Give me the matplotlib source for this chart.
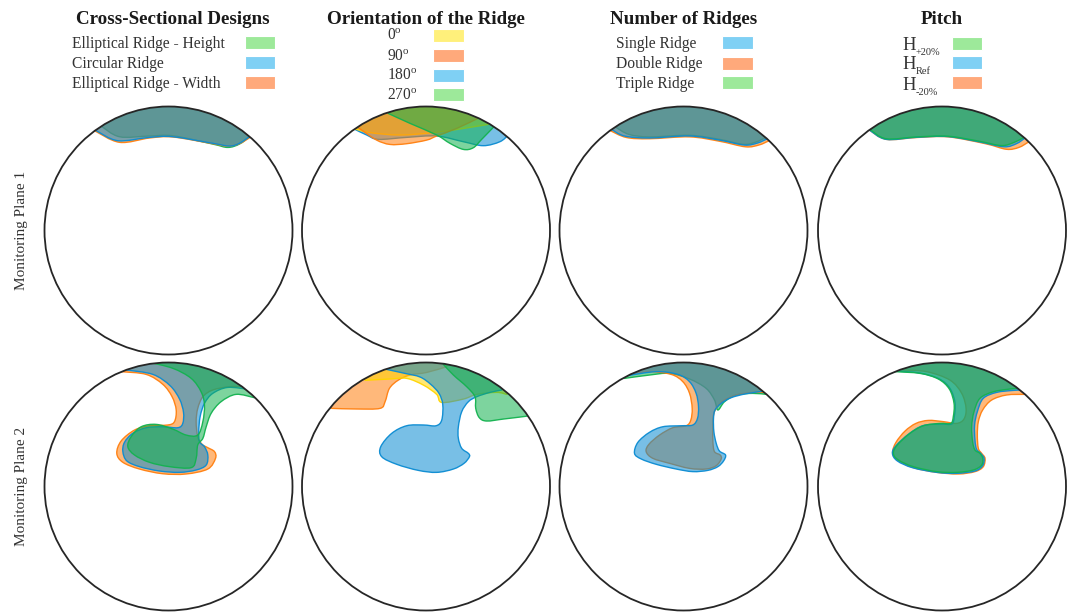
import numpy as np
import matplotlib
matplotlib.use("Agg")
import matplotlib.pyplot as plt
from matplotlib.patches import Circle, PathPatch, Rectangle
from matplotlib.path import Path
from matplotlib.colors import to_rgba

plt.rcParams["font.family"] = ["Liberation Serif", "DejaVu Serif"]
plt.rcParams["mathtext.fontset"] = "custom"
plt.rcParams["mathtext.rm"] = "Liberation Serif"
plt.rcParams["mathtext.it"] = "Liberation Serif:italic"
plt.rcParams["mathtext.bf"] = "Liberation Serif:bold"

# ---------------------------------------------------------------------------
# Vortex-core outlines in the pipe cross-section, in percent of pipe radius
# (x to the right, y upwards, pipe wall at r = 100).  Every outline starts and
# ends at the upper wall.
# ---------------------------------------------------------------------------

column_titles = ["Cross-Sectional Designs", "Orientation of the Ridge",
                 "Number of Ridges", "Pitch"]
row_titles = ["Monitoring Plane 1", "Monitoring Plane 2"]

cross_labels = ["Elliptical Ridge - Height", "Circular Ridge", "Elliptical Ridge - Width"]
orient_labels = ["0$^{\\rm o}$", "90$^{\\rm o}$", "180$^{\\rm o}$", "270$^{\\rm o}$"]
number_labels = ["Single Ridge", "Double Ridge", "Triple Ridge"]
pitch_subscripts = ["+20%", "Ref", "-20%"]

# ---- Monitoring plane 1 ----------------------------------------------------
mp1_ell_height = [(-54.3, 84.2), (-39.5, 75.6), (-15.3, 76.2), (3.5, 76.4),
                  (35.7, 69.7), (47.8, 67.0), (57.2, 69.7), (65.3, 75.6)]
mp1_circular = [(-58.3, 80.5), (-40.9, 72.4), (-15.3, 75.1), (3.5, 75.6),
                (35.7, 70.3), (49.2, 68.1), (57.2, 70.3), (65.3, 75.6)]
mp1_ell_width = [(-59.7, 80.5), (-39.5, 71.1), (-15.3, 74.6), (3.5, 75.4),
                 (35.7, 70.0), (47.8, 68.1), (57.2, 70.0), (65.8, 75.1)]

mp1_deg0 = [(-58.6, 82.3), (-45.1, 78.9), (-21.0, 77.0), (5.9, 78.9),
            (30.1, 82.3), (51.6, 85.8), (57.0, 86.4)]
mp1_deg90 = [(-55.9, 83.7), (-51.9, 81.0), (-39.8, 72.9), (-29.0, 69.4),
             (-15.6, 70.0), (0.5, 72.9), (8.6, 76.2), (24.7, 82.3), (43.0, 91.0)]
mp1_deg180 = [(-57.2, 81.5), (-47.8, 77.0), (-38.4, 73.5), (-15.6, 75.1),
              (8.6, 76.2), (30.1, 71.6), (46.2, 68.4), (59.6, 71.6), (66.4, 77.0)]
mp1_deg270 = [(-30.4, 94.4), (-12.9, 86.4), (8.6, 77.0), (19.3, 70.3),
              (30.1, 65.4), (38.1, 66.7), (44.9, 73.5), (54.8, 83.7)]

mp1_single = [(-58.0, 81.5), (-47.6, 76.2), (-27.4, 74.6), (4.8, 76.2),
              (29.0, 72.9), (49.2, 68.9), (59.6, 70.5), (67.7, 74.0)]
mp1_double = [(-59.0, 80.5), (-46.0, 75.0), (-27.4, 74.0), (4.8, 75.5),
              (29.0, 72.0), (50.0, 67.5), (61.0, 69.0), (69.0, 72.4)]
mp1_triple = [(-55.0, 83.5), (-44.0, 77.5), (-27.4, 75.5), (4.8, 76.8),
              (29.0, 73.5), (48.0, 69.5), (58.0, 71.2), (66.5, 75.0)]

mp1_h_plus = [(-58.0, 81.4), (-45.0, 74.0), (-20.0, 75.5), (5.0, 76.0),
              (30.0, 72.0), (48.0, 68.5), (58.0, 71.0), (66.0, 75.0)]
mp1_h_ref = [(-58.5, 81.0), (-45.0, 73.5), (-20.0, 75.2), (5.0, 75.7),
             (30.0, 71.5), (50.0, 67.5), (60.0, 70.0), (67.0, 74.6)]
mp1_h_minus = [(-58.5, 81.0), (-45.0, 73.5), (-20.0, 75.0), (5.0, 75.5),
               (35.0, 70.0), (52.0, 65.5), (62.0, 67.0), (70.0, 71.5)]

# ---- Monitoring plane 2 ----------------------------------------------------
mp2_ell_height = [(-15.3, 100.1), (3.5, 95.3), (18.3, 87.2), (26.3, 76.4),
                  (29.0, 65.7), (27.7, 52.3), (23.6, 41.5), (14.2, 41.5),
                  (3.5, 46.3), (-10.0, 50.1), (-22.0, 48.2), (-30.1, 40.2),
                  (-32.8, 32.1), (-27.4, 25.4), (-15.3, 19.5), (0.8, 16.0),
                  (18.3, 15.2), (22.3, 22.7), (23.6, 33.5), (27.7, 38.8),
                  (30.4, 48.2), (34.4, 59.0), (42.4, 68.4), (54.5, 74.3),
                  (69.3, 71.6)]
mp2_circular = [(-33.6, 93.9), (-12.6, 90.4), (1.3, 81.3), (8.9, 70.5),
                (12.1, 59.8), (11.5, 50.9), (7.5, 47.4), (-4.6, 48.2),
                (-18.0, 47.4), (-28.8, 42.9), (-35.5, 35.6), (-36.8, 28.1),
                (-33.6, 20.6), (-23.4, 16.0), (-7.3, 12.5), (8.9, 11.4),
                (22.3, 13.3), (30.4, 17.3), (31.7, 25.4), (29.0, 32.1),
                (25.0, 36.1), (24.4, 44.2), (25.5, 56.3), (29.0, 67.0),
                (35.7, 75.1), (47.8, 79.9), (64.7, 78.3)]
mp2_ell_width = [(-38.2, 92.6), (-18.0, 90.4), (-4.6, 82.4), (2.9, 72.4),
                 (6.2, 61.7), (4.8, 52.3), (-0.6, 49.6), (-15.3, 49.0),
                 (-27.4, 45.5), (-38.2, 36.7), (-41.7, 26.7), (-36.8, 19.5),
                 (-23.4, 14.1), (-4.6, 10.3), (14.2, 10.1), (31.7, 14.1),
                 (37.9, 22.7), (37.1, 28.1), (31.7, 31.3), (27.1, 34.0),
                 (23.6, 40.2), (22.3, 52.3), (23.6, 63.0), (27.7, 72.4),
                 (35.7, 77.8), (49.2, 80.5), (61.3, 80.5)]

mp2_deg0 = [(-49.1, 85.6), (-29.0, 86.7), (-15.6, 87.2), (-2.1, 81.8),
            (8.6, 74.3), (12.7, 67.8), (30.1, 70.5), (40.9, 74.3),
            (57.0, 75.9), (65.1, 74.3)]
mp2_deg90 = [(-76.0, 63.0), (-55.9, 62.5), (-37.1, 63.0), (-33.0, 68.4),
             (-29.5, 79.1), (-22.3, 85.8), (-12.9, 89.9), (0.6, 92.0),
             (16.7, 96.6)]
mp2_deg180 = [(-33.0, 94.7), (-16.9, 91.2), (-4.8, 88.3), (3.8, 82.4),
              (10.5, 75.1), (13.5, 66.2), (12.7, 53.6), (8.1, 49.0),
              (-2.1, 49.6), (-15.6, 49.0), (-27.6, 42.9), (-36.5, 32.1),
              (-35.7, 24.0), (-23.6, 17.9), (-6.2, 13.0), (8.6, 11.4),
              (22.1, 14.1), (30.7, 18.7), (35.0, 24.0), (34.2, 26.7),
              (28.8, 30.8), (26.1, 38.8), (26.1, 48.2), (28.8, 60.3),
              (34.2, 68.4), (40.9, 72.4), (51.6, 75.9), (61.0, 77.8)]
mp2_deg270 = [(14.0, 98.5), (22.1, 89.9), (32.8, 80.5), (39.5, 72.4),
              (40.1, 63.0), (43.0, 55.5), (48.9, 52.8), (62.4, 54.4),
              (75.8, 56.0), (81.7, 56.8)]

mp2_single = [(-45.7, 89.3), (-22.0, 92.6), (-4.6, 90.4), (4.9, 84.5),
              (10.2, 75.1), (12.1, 64.4), (11.3, 55.0), (7.5, 49.6),
              (-1.9, 49.0), (-16.6, 48.2), (-27.4, 43.7), (-36.8, 35.6),
              (-39.5, 26.7), (-34.1, 22.2), (-22.0, 17.9), (-5.9, 14.1),
              (7.5, 12.0), (19.6, 13.0), (27.7, 16.0), (32.3, 20.6),
              (33.9, 25.4), (29.0, 28.6), (26.4, 34.8), (24.5, 44.2),
              (24.2, 54.9), (25.5, 61.7), (30.4, 67.0), (38.4, 71.6),
              (50.5, 74.8), (65.3, 77.0)]
mp2_double = [(-44.9, 90.4), (-27.4, 92.6), (-9.9, 90.4), (-0.5, 84.5),
              (4.9, 75.1), (7.0, 63.0), (5.9, 53.6), (2.2, 49.0),
              (-8.6, 47.4), (-19.3, 41.5), (-27.9, 34.0), (-30.1, 28.1),
              (-24.7, 22.7), (-11.3, 18.7), (4.9, 14.6), (18.3, 14.1),
              (26.4, 16.8), (30.4, 22.2), (29.6, 25.4), (25.0, 28.1),
              (23.7, 36.1), (23.7, 46.9), (24.2, 57.7), (26.4, 63.0),
              (31.7, 68.9), (42.5, 73.8), (55.9, 75.9), (65.3, 75.9)]
mp2_triple = [(-47.5, 87.2), (-27.4, 89.9), (-11.3, 91.2), (4.9, 86.7),
              (18.3, 79.1), (25.0, 69.7), (27.7, 61.7), (33.1, 68.4),
              (42.5, 73.8), (55.9, 75.1), (66.7, 74.3)]

mp2_h_plus = [(-37.9, 92.6), (-17.7, 91.2), (-3.0, 86.7), (5.9, 78.6),
              (9.7, 67.0), (9.1, 56.3), (7.0, 50.9), (-1.6, 50.9),
              (-15.0, 49.0), (-25.8, 42.9), (-36.0, 33.5), (-39.2, 26.7),
              (-35.2, 21.4), (-23.1, 16.0), (-4.3, 12.0), (11.8, 11.4),
              (25.3, 13.3), (32.0, 17.3), (32.8, 22.7), (30.6, 26.7),
              (26.6, 29.4), (24.7, 36.1), (23.9, 48.2), (25.8, 60.3),
              (30.6, 71.1), (41.4, 76.4), (54.8, 78.6), (61.5, 79.1)]
mp2_h_ref = [(-37.1, 93.1), (-17.7, 91.5), (-2.1, 86.7), (6.4, 79.1),
             (10.5, 67.6), (9.9, 56.3), (7.8, 50.4), (-1.6, 50.4),
             (-15.6, 49.0), (-27.1, 42.1), (-37.1, 32.9), (-40.0, 26.7),
             (-36.0, 20.6), (-23.6, 15.1), (-4.3, 11.4), (11.8, 10.6),
             (26.6, 12.5), (32.8, 16.8), (33.9, 22.7), (31.2, 26.7),
             (27.9, 30.0), (26.6, 37.5), (26.3, 49.6), (28.5, 60.3),
             (33.3, 71.1), (44.1, 75.9), (57.5, 77.5), (64.2, 77.8)]
mp2_h_minus = [(-32.5, 93.9), (-12.4, 92.6), (6.4, 85.8), (15.9, 75.1),
               (19.4, 63.0), (17.7, 54.4), (11.8, 50.9), (1.1, 52.3),
               (-11.0, 53.3), (-21.0, 50.9), (-29.8, 44.7), (-37.1, 35.6),
               (-39.8, 27.5), (-36.0, 21.4), (-23.1, 15.2), (-4.3, 11.4),
               (13.2, 10.1), (26.6, 12.0), (33.3, 16.0), (34.7, 22.7),
               (32.0, 26.7), (29.3, 30.8), (28.5, 41.5), (29.3, 52.3),
               (32.8, 61.7), (40.0, 69.7), (52.1, 73.8), (66.9, 74.3)]

# ---------------------------------------------------------------------------
# Styling
# ---------------------------------------------------------------------------
GREEN, BLUE, ORANGE, YELLOW = "#13b24f", "#0a8bd2", "#ff7f0e", "#ffd500"
SWATCH = {GREEN: "#9de99a", BLUE: "#7fd0f4", ORANGE: "#ffa97b", YELLOW: "#fff07b"}
FILL_ALPHA = 0.55

# panels[row][col] -> list of (outline, colour) in drawing order (bottom first)
panels = [
    [
        [(mp1_ell_height, GREEN), (mp1_ell_width, ORANGE), (mp1_circular, BLUE)],
        [(mp1_deg180, BLUE), (mp1_deg0, YELLOW), (mp1_deg90, ORANGE), (mp1_deg270, GREEN)],
        [(mp1_triple, GREEN), (mp1_double, ORANGE), (mp1_single, BLUE)],
        [(mp1_h_minus, ORANGE), (mp1_h_ref, BLUE), (mp1_h_plus, GREEN)],
    ],
    [
        [(mp2_ell_width, ORANGE), (mp2_circular, BLUE), (mp2_ell_height, GREEN)],
        [(mp2_deg90, ORANGE), (mp2_deg0, YELLOW), (mp2_deg180, BLUE), (mp2_deg270, GREEN)],
        [(mp2_triple, GREEN), (mp2_double, ORANGE), (mp2_single, BLUE)],
        [(mp2_h_minus, ORANGE), (mp2_h_ref, BLUE), (mp2_h_plus, GREEN)],
    ],
]

legends = [
    (cross_labels, [GREEN, BLUE, ORANGE]),
    (orient_labels, [YELLOW, ORANGE, BLUE, GREEN]),
    (number_labels, [BLUE, ORANGE, GREEN]),
    (pitch_subscripts, [GREEN, BLUE, ORANGE]),
]

FIG_W, FIG_H = 1072, 612
fig = plt.figure(figsize=(FIG_W / 100, FIG_H / 100), dpi=100)

# overlay in pixel units for headings and legend keys
over = fig.add_axes([0, 0, 1, 1])
over.set_xlim(0, FIG_W)
over.set_ylim(FIG_H, 0)
over.axis("off")

col_cx = [168.5, 426, 683.5, 942]
row_cy = [230.5, 486.5]
R_PX = 124.0
LIM = 106.0
half = LIM / 100.0 * R_PX


def wall_path(pts):
    """Smooth outline through the points, closed outside the pipe wall."""
    p = np.asarray(pts, float)
    ext = np.vstack([p[0], p, p[-1]])
    verts = [p[0]]
    codes = [Path.MOVETO]
    for i in range(len(p) - 1):
        p0, p1, p2, p3 = ext[i], ext[i + 1], ext[i + 2], ext[i + 3]
        verts += [p1 + (p2 - p0) / 6.0, p2 - (p3 - p1) / 6.0, p2]
        codes += [Path.CURVE4] * 3
    a, b = p[0] * 1.15, p[-1] * 1.15
    top = 135.0
    for q in (b, [b[0], top], [a[0], top], a, p[0]):
        verts.append(q)
        codes.append(Path.LINETO)
    verts.append(p[0])
    codes.append(Path.CLOSEPOLY)
    return Path(np.asarray(verts, float), codes)


for r, cy in enumerate(row_cy):
    for c, cx in enumerate(col_cx):
        ax = fig.add_axes([(cx - half) / FIG_W, (FIG_H - cy - half) / FIG_H,
                           2 * half / FIG_W, 2 * half / FIG_H])
        ax.set_xlim(-LIM, LIM)
        ax.set_ylim(-LIM, LIM)
        ax.axis("off")
        clip = Circle((0, 0), 100, transform=ax.transData)
        for z, (outline, colr) in enumerate(panels[r][c]):
            patch = PathPatch(wall_path(outline),
                              facecolor=to_rgba(colr, FILL_ALPHA),
                              edgecolor=to_rgba(colr, 0.95), linewidth=1.0,
                              joinstyle="round", zorder=2 + z)
            ax.add_patch(patch)
            patch.set_clip_path(clip)
        ax.add_patch(Circle((0, 0), 100, facecolor="none", edgecolor="#262626",
                            linewidth=1.3, zorder=10))

# column headings
for cx, title in zip([173, 425.5, 684, 942], column_titles):
    over.text(cx, 19.5, title, ha="center", va="center", fontsize=13.7,
              fontweight="bold", color="#1a1a1a")

# legend keys
legend_layout = [
    (72, (244.5, 275), [42.5, 62, 82.3]),
    (387, (433, 463.5), [35, 55.5, 75, 94.5]),
    (616, (722, 753), [42.7, 63, 82]),
    (902, (951.5, 982), [43, 62, 82.7]),
]
for k, ((labels, colours), (tx, (sx0, sx1), ys)) in enumerate(zip(legends, legend_layout)):
    for lab, colr, y in zip(labels, colours, ys):
        if k == 3:
            over.text(tx, y + 7, "H", ha="left", va="baseline", fontsize=13.5,
                      color="#333333")
            over.text(tx + 13.5, y + 12, lab, ha="left", va="baseline",
                      fontsize=7.5, color="#333333")
        else:
            over.text(tx, y + 1.5, lab, ha="left", va="center", fontsize=11.2,
                      color="#333333")
        over.add_patch(Rectangle((sx0, y - 6.5), sx1 - sx0, 13,
                                 facecolor=SWATCH[colr], edgecolor="white",
                                 linewidth=0.8))

# row headings
for cy, title in zip(row_cy, row_titles):
    over.text(22, cy, title, ha="center", va="center", rotation=90,
              fontsize=11, color="#333333")

fig.savefig("out.png", dpi=100)
